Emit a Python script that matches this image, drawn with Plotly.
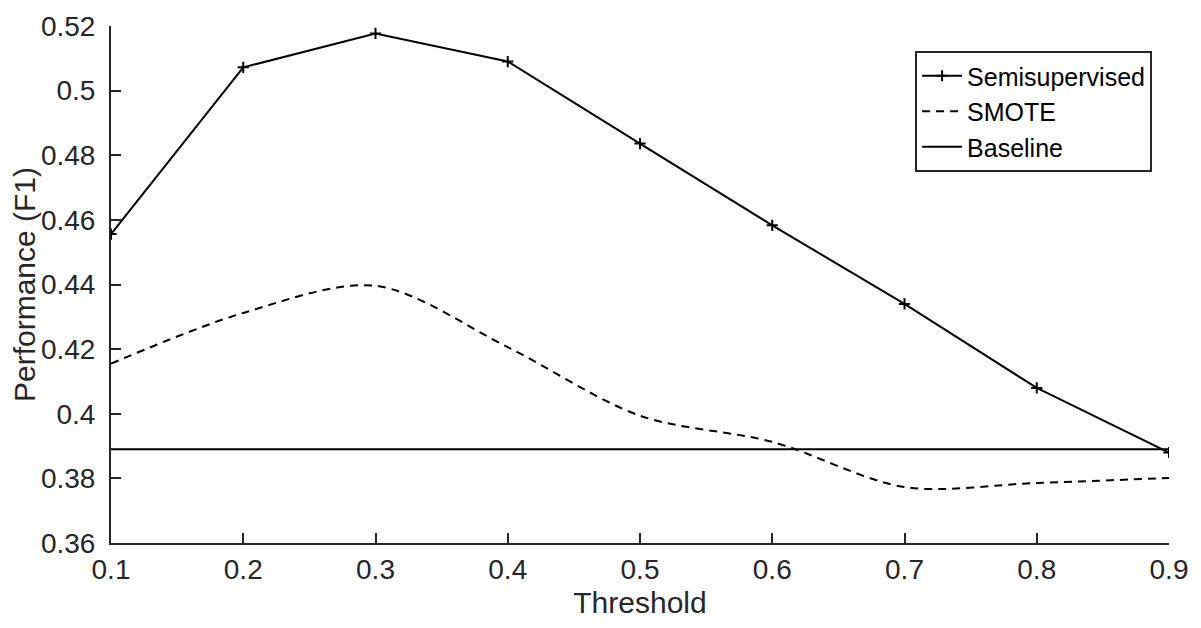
import plotly.graph_objects as go

# Threshold sweep, F1 per method
thresholds = [0.1, 0.2, 0.3, 0.4, 0.5, 0.6, 0.7, 0.8, 0.9]
semisupervised = [0.4556, 0.5072, 0.5177, 0.5090, 0.4836, 0.4583, 0.4340, 0.4080, 0.3880]
smote = [0.4155, 0.4312, 0.4396, 0.4206, 0.3994, 0.3913, 0.3773, 0.3786, 0.3801]
baseline = [0.389, 0.389, 0.389, 0.389, 0.389, 0.389, 0.389, 0.389, 0.389]

x_ticks = [0.1, 0.2, 0.3, 0.4, 0.5, 0.6, 0.7, 0.8, 0.9]
y_ticks = [0.36, 0.38, 0.4, 0.42, 0.44, 0.46, 0.48, 0.5, 0.52]

axis_color = '#262626'
font_family = 'Liberation Sans, Arial, sans-serif'

fig = go.Figure()
fig.add_trace(go.Scatter(x=thresholds, y=semisupervised, name='Semisupervised',
                         mode='lines+markers',
                         line=dict(color='black', width=2),
                         marker=dict(symbol='cross-thin', size=8, color='black',
                                     line=dict(color='black', width=2))))
fig.add_trace(go.Scatter(x=thresholds, y=smote, name='SMOTE', mode='lines',
                         line=dict(color='black', width=2, dash='8px,6px', shape='spline', smoothing=0.9)))
fig.add_trace(go.Scatter(x=thresholds, y=baseline, name='Baseline', mode='lines',
                         line=dict(color='black', width=2)))

# page body adds an 8px offset, so margins are shifted to compensate
fig.update_layout(
    width=1201, height=628,
    margin=dict(l=103, r=40, t=18, b=93, autoexpand=False),
    paper_bgcolor='white', plot_bgcolor='white',
    font=dict(family=font_family, color=axis_color, size=28),
    showlegend=True,
    legend=dict(x=0.76, y=0.9516, xanchor='left', yanchor='top',
                bgcolor='white', bordercolor=axis_color, borderwidth=2,
                font=dict(size=25, color='black'), itemwidth=40,
                tracegroupgap=0),
)
fig.update_xaxes(range=[0.1, 0.9], tickvals=x_ticks, ticktext=[str(v) for v in x_ticks],
                 showline=True, linecolor=axis_color, linewidth=2, mirror=False,
                 ticks='inside', ticklen=10, tickwidth=2, tickcolor=axis_color,
                 showgrid=False, zeroline=False, automargin=False,
                 title=dict(text='Threshold', font=dict(size=30), standoff=8))
fig.update_yaxes(range=[0.36, 0.52], tickvals=y_ticks, ticktext=[f'{v:g}' for v in y_ticks],
                 showline=True, linecolor=axis_color, linewidth=2, mirror=False,
                 ticks='inside', ticklen=10, tickwidth=2, tickcolor=axis_color,
                 showgrid=False, zeroline=False, ticklabelstandoff=8, automargin=False,
                 title=dict(text='Performance (F1)', font=dict(size=30), standoff=6))

fig.write_html("out.html")
